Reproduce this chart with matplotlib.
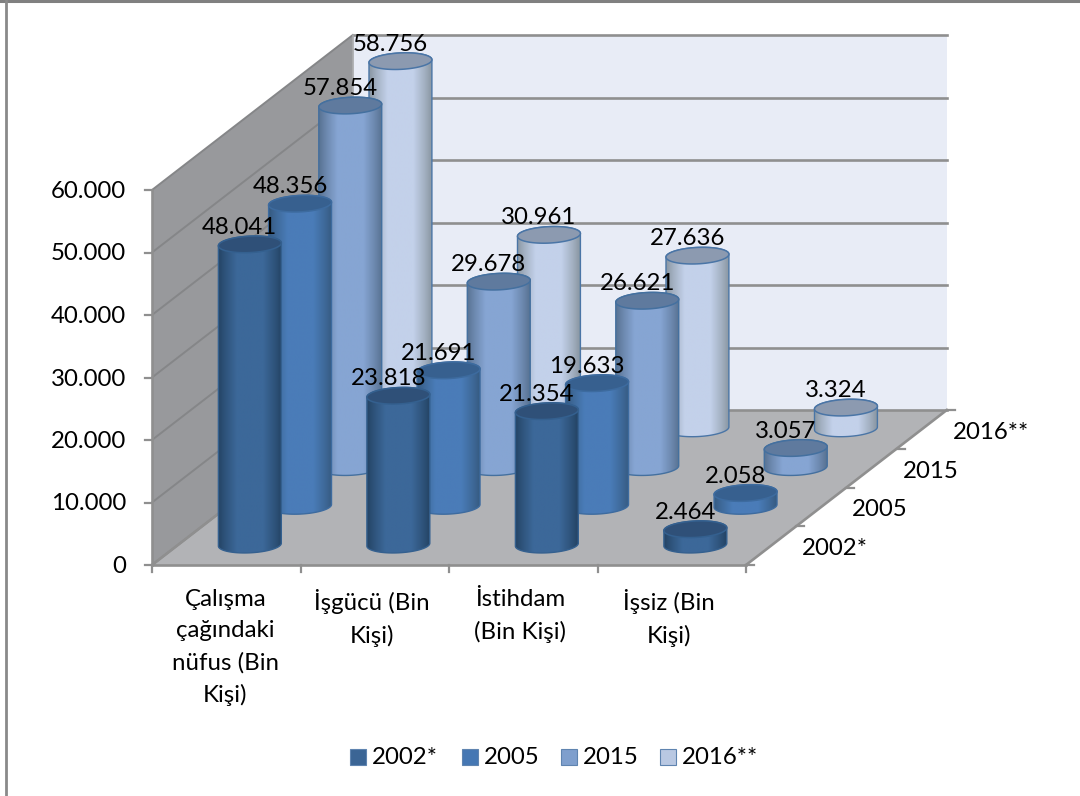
import numpy as np
import matplotlib
matplotlib.use("Agg")
import matplotlib.pyplot as plt
from matplotlib.patches import Polygon, Rectangle
from matplotlib.colors import to_rgb

# ---- data ----
categories = ["Çalışma\nçağındaki\nnüfus (Bin\nKişi)", "İşgücü (Bin\nKişi)", "İstihdam\n(Bin Kişi)", "İşsiz (Bin\nKişi)"]
series_names = ["2002*", "2005", "2015", "2016**"]
v2002 = [48041, 23818, 21354, 2464]
v2005 = [48356, 21691, 19633, 2058]
v2015 = [57854, 29678, 26621, 3057]
v2016 = [58756, 30961, 27636, 3324]
series_values = [v2002, v2005, v2015, v2016]
y_ticks = [0, 10000, 20000, 30000, 40000, 50000, 60000]

# ---- style ----
FONT = "Lato"
FS = 17.3
side_mid = ["#3c6899", "#4a7cb8", "#86a5d3", "#c3d1ea"]
side_dark = ["#234262", "#35597f", "#56708f", "#87949f"]
top_col = ["#2f5078", "#37608f", "#5f7a9e", "#8c9ab0"]
edge_col = ["#34608f", "#3d6b9f", "#44709f", "#4a75a6"]
legend_col = ["#3b6595", "#4577b3", "#7f9fcd", "#b9c8e2"]

# ---- projection: category units, depth units, value -> figure pixels ----
X0, Y0 = 152.0, 565.0          # front-left floor corner
CAT_W = 148.5                  # pixel width of one category
DEP_DX, DEP_DY = 50.2, -38.75  # pixel shift of one depth row
PX_PER_UNIT = 6.25 / 1000.0
N_CAT, N_DEP = len(categories), len(series_names)


def proj(c, d, v=0.0):
    return (X0 + c * CAT_W + d * DEP_DX, Y0 + d * DEP_DY - v * PX_PER_UNIT)


fig = plt.figure(figsize=(10.8, 7.96), dpi=100, facecolor="white")
ax = fig.add_axes([0, 0, 1, 1])
ax.set_axis_off()

vmax = y_ticks[-1]
# walls and floor
ax.add_patch(Polygon([proj(0, N_DEP, 0), proj(N_CAT, N_DEP, 0), proj(N_CAT, N_DEP, vmax), proj(0, N_DEP, vmax)],
                     fc="#e8ecf6", ec="none", zorder=1))
ax.add_patch(Polygon([proj(0, 0, 0), proj(0, N_DEP, 0), proj(0, N_DEP, vmax), proj(0, 0, vmax)],
                     fc="#98999c", ec="none", zorder=1))
ax.add_patch(Polygon([proj(0, 0, 0), proj(N_CAT, 0, 0), proj(N_CAT, N_DEP, 0), proj(0, N_DEP, 0)],
                     fc="#b2b3b6", ec="none", zorder=1))

GRID = "#8f8f8f"
for t in y_ticks:
    pts = [proj(0, 0, t), proj(0, N_DEP, t), proj(N_CAT, N_DEP, t)]
    ax.plot([p[0] for p in pts[:2]], [p[1] for p in pts[:2]], color="#858688", lw=1.4, zorder=2)
    ax.plot([p[0] for p in pts[1:]], [p[1] for p in pts[1:]], color=GRID, lw=1.9, zorder=2)
    px, py = proj(0, 0, t)
    ax.plot([px - 7, px], [py, py], color=GRID, lw=1.6, zorder=2)
    ax.text(px - 26, py + 1.5, f"{t:,}".replace(",", "."), ha="right", va="center",
            family=FONT, fontsize=FS, color="black", zorder=30)

# axes lines
for p, q, col, lw in [(proj(0, 0), proj(N_CAT, 0), GRID, 1.9),
                      (proj(N_CAT, 0), proj(N_CAT, N_DEP), GRID, 1.9),
                      (proj(0, 0), proj(0, N_DEP), GRID, 1.9),
                      (proj(0, N_DEP), proj(0, N_DEP, vmax), "#a8a9ab", 1.2),
                      (proj(0, 0), proj(0, 0, vmax), GRID, 1.9)]:
    ax.plot([p[0], q[0]], [p[1], q[1]], color=col, lw=lw, zorder=3)

for c in range(N_CAT + 1):
    px, py = proj(c, 0)
    ax.plot([px, px], [py, py + 7], color=GRID, lw=1.6, zorder=3)
for d in range(N_DEP + 1):
    px, py = proj(N_CAT, d)
    ax.plot([px, px + 8], [py, py], color=GRID, lw=1.6, zorder=3)

# category labels
for c, label in enumerate(categories):
    px, py = proj(c + 0.5, 0)
    ax.text(px - (1 if c == 0 else 3), py + 24, label, ha="center", va="top", family=FONT, fontsize=FS,
            linespacing=1.6, zorder=30)

# depth labels
for d, name in enumerate(series_names):
    px, py = proj(N_CAT, d + 0.5)
    ax.text(px + 31, py + 3, name, ha="left", va="center", family=FONT, fontsize=FS, zorder=30)

# cylinders
RX, RY = 31.5, 8.2
TILT = np.radians(-2.8)
CYL_SHIFT = -1.5               # measured offset of a column from its cell centre


def ellipse(cx, cy, t):
    ct, st = np.cos(t), np.sin(t)
    return np.column_stack([cx + RX * ct * np.cos(TILT) - RY * st * np.sin(TILT),
                            cy + RX * ct * np.sin(TILT) + RY * st * np.cos(TILT)])


def gradient(i):
    stops = np.array([0.0, 0.12, 0.3, 0.5, 0.7, 0.88, 1.0])
    dark, mid = np.array(to_rgb(side_dark[i])), np.array(to_rgb(side_mid[i]))
    between = 0.55 * dark + 0.45 * mid
    cols = np.array([dark, between, mid, mid, mid, between, dark])
    xs = np.linspace(0, 1, 80)
    return np.stack([np.interp(xs, stops, cols[:, k]) for k in range(3)], axis=1)[None, :, :]


z = 10.0
for d in range(N_DEP - 1, -1, -1):
    for c in range(N_CAT):
        val = series_values[d][c]
        bx, by = proj(c + 0.5, d + 0.5)
        tx, ty = proj(c + 0.5, d + 0.5, val)
        bx += CYL_SHIFT
        tx += CYL_SHIFT
        by -= 1.0
        ty -= 1.0
        lower = ellipse(bx, by, np.linspace(0, np.pi, 60))
        upper = ellipse(tx, ty, np.linspace(np.pi, 2 * np.pi, 60))
        body = Polygon(np.vstack([lower, upper]), closed=True, fc="none", ec=edge_col[d], lw=1.0, zorder=z + 0.2)
        ax.add_patch(body)
        im = ax.imshow(gradient(d), extent=(bx - RX - 1, bx + RX + 1, by + RY + 2, ty - RY - 2),
                       aspect="auto", interpolation="bilinear", zorder=z + 0.1)
        im.set_clip_path(body)
        cap = Polygon(ellipse(tx, ty, np.linspace(0, 2 * np.pi, 120)), closed=True,
                      fc=top_col[d], ec=edge_col[d], lw=1.1, zorder=z + 0.3)
        ax.add_patch(cap)
        ax.text(tx - 10, ty - 17, f"{val:,}".replace(",", "."), ha="center", va="center",
                family=FONT, fontsize=FS, color="black", zorder=40)
        z += 1

# legend
leg_sq = [350, 462, 561, 660]
for i, name in enumerate(series_names):
    ax.add_patch(Rectangle((leg_sq[i], 749), 16, 16, fc=legend_col[i], ec="#5f84b0", lw=0.8, zorder=30))
    ax.text(leg_sq[i] + 22, 758, name, ha="left", va="center", family=FONT, fontsize=FS, zorder=30)

# outer frame
ax.plot([0, 1080], [0.5, 0.5], color="#808080", lw=2.2, zorder=50, clip_on=False)
ax.plot([6, 6], [0, 796], color="#8a8a8a", lw=2.0, zorder=50)

ax.set_xlim(0, 1080)
ax.set_ylim(796, 0)
fig.savefig("out.png", dpi=100, facecolor="white")
